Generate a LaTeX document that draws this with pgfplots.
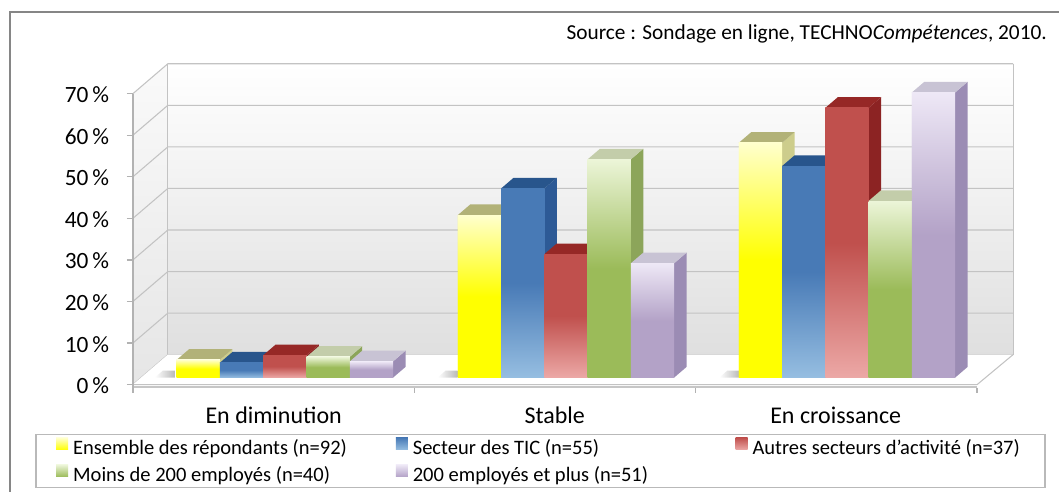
\documentclass[border=0pt]{standalone}
\usepackage{pgfplots}
\pgfplotsset{compat=1.18}
\usepackage{pgfplotstable}
\usepackage{fontspec}
\setmainfont{Carlito}

\definecolor{Yt}{RGB}{255,255,205}\definecolor{Yb}{RGB}{255,255,0}
\definecolor{Ytop}{RGB}{178,178,120}\definecolor{Yside}{RGB}{205,205,140}
\definecolor{Bt}{RGB}{72,122,182}\definecolor{Bb}{RGB}{150,190,225}
\definecolor{Btop}{RGB}{40,85,140}\definecolor{Bside}{RGB}{45,90,150}
\definecolor{Rt}{RGB}{192,80,77}\definecolor{Rb}{RGB}{236,168,166}
\definecolor{Rtop}{RGB}{150,40,38}\definecolor{Rside}{RGB}{140,35,35}
\definecolor{Gt}{RGB}{236,245,216}\definecolor{Gb}{RGB}{155,187,89}
\definecolor{Gtop}{RGB}{195,205,170}\definecolor{Gside}{RGB}{140,165,90}
\definecolor{Pt}{RGB}{238,232,246}\definecolor{Pb}{RGB}{179,162,199}
\definecolor{Ptop}{RGB}{200,195,212}\definecolor{Pside}{RGB}{155,140,180}
\definecolor{frame}{RGB}{134,134,134}
\definecolor{grid}{RGB}{195,195,195}

\pgfplotstableread{
x ens tic aut moins plus
0 4.3 3.6 5.4 5.0 3.9
1 39.1 45.5 29.7 52.5 27.5
2 56.5 50.9 64.9 42.5 68.6
}\datatable

% 3D bar drawn at the top centre of its front face: side, top, then front face
\newcommand\declbox[6]{%
 \pgfdeclareplotmark{#1}{%
  \pgfmathsetmacro\hh{\rawy*3.12}%
  \pgfmathsetmacro\hb{8.03-\hh}%
  \pgfmathsetmacro\hc{-\hh}%
  \path[fill=#3, draw=none] (16.24pt,0pt) -- (25.61pt,8.03pt) -- (25.61pt,\hb pt) -- (16.24pt,\hc pt) -- cycle;
  \path[fill=#2, draw=none] (-16.24pt,0pt) -- (16.24pt,0pt) -- (25.61pt,8.03pt) -- (-6.87pt,8.03pt) -- cycle;
  \path[draw=none, top color=#4, bottom color=#5, middle color=#6] (-16.24pt,\hc pt) rectangle (16.24pt,0pt);
 }}
\declbox{boxY}{Ytop}{Yside}{Yt}{Yb}{Yb}
\declbox{boxB}{Btop}{Bside}{Bt}{Bb}{Bt}
\declbox{boxR}{Rtop}{Rside}{Rt}{Rb}{Rt}
\declbox{boxG}{Gtop}{Gside}{Gt}{Gb}{Gb}
\declbox{boxP}{Ptop}{Pside}{Pt}{Pb}{Pb}

\begin{document}
\begin{tikzpicture}
\begin{scope}[x=0.75pt,y=0.75pt]
\fill[white] (0,0) rectangle (1060,492);
% frame
\draw[frame, line width=1.5pt] (10,0) -- (10,480) -- (1060,480);
% source
\node[anchor=base east, inner sep=0pt, font=\fontsize{16}{19}\selectfont] at (1048,452)
  {Source : Sondage en ligne, TECHNO\textit{Compétences}, 2010.};
% left wall
\shade[top color=gray!4, bottom color=gray!20] (133,107) -- (133,397.7) -- (168,428.2) -- (168,137) -- cycle;
% back wall
\shade[top color=white, bottom color=gray!25] (168,137) rectangle (1014,428.2);
\foreach \k in {0,...,7}{
  \draw[grid, line width=0.8pt] (133,107+41.6*\k) -- (168,137+41.6*\k) -- (1014,137+41.6*\k);
}
\draw[grid, line width=0.8pt] (168,137) -- (168,428.2) (1014,137) -- (1014,428.2);
% floor
\fill[white] (133,107) -- (978,107) -- (1014,137) -- (168,137) -- cycle;
\draw[grid, line width=0.8pt] (133,107) -- (978,107) -- (1014,137);
\draw[gray!45, line width=1.2pt] (133,104.5) -- (978,104.5);
% floor shadows left of each group
\foreach \sx in {155,438,720}{
  \shade[left color=white, right color=gray!55] (\sx,114) -- (\sx+20,114) -- (\sx+20,121) -- (\sx+8,121) -- cycle;
}
% front axis
\draw[gray!60, line width=1pt] (133,104) -- (133,398.2);
\foreach \k in {0,...,7}{\draw[gray!60, line width=1pt] (127,107+41.6*\k) -- (133,107+41.6*\k);}
\foreach \xx in {133,414.7,696.3,978}{\draw[gray!60, line width=1pt] (\xx,104) -- (\xx,99);}
% legend box
\draw[gray!55, line width=1pt] (36,4) rectangle (1046,57);
\end{scope}

\begin{axis}[
  at={(108.375pt,85.5pt)}, anchor=south west,
  scale only axis, width=632.9pt, height=218.4pt,
  xmin=-0.5, xmax=2.5, ymin=0, ymax=70,
  clip=false,
  axis x line*=bottom, axis y line*=left,
  axis line style={draw=none},
  major tick length=0pt,
  xtick={0,1,2},
  xticklabels={En diminution, Stable, En croissance},
  xticklabel style={anchor=base, inner sep=0pt, xshift=-8.4pt, yshift=-34.5pt,
    font=\fontsize{18}{21}\selectfont},
  ytick={0,10,...,70},
  yticklabels={0\,\%,10\,\%,20\,\%,30\,\%,40\,\%,50\,\%,60\,\%,70\,\%},
  yticklabel style={anchor=base east, inner sep=0pt, xshift=-26.4pt, yshift=-12pt,
    font=\fontsize{17.5}{21}\selectfont},
  legend columns=3,
  legend style={at={(-0.1049,-0.2026)}, anchor=north west, draw=none, fill=none,
    inner sep=0pt, /tikz/column sep=0pt, /tikz/row sep=0pt,
    font=\fontsize{15.4}{18}\selectfont,
    nodes={inner sep=0pt, text height=13.5pt, text depth=6.75pt, text width=242.25pt, align=flush left}},
]
\addplot[ybar, bar width=0.15393, bar shift=-0.30786, draw=none,
  top color=Yt, bottom color=Yb, middle color=Yb,
  legend image code/.code={\shade[top color=Yt, bottom color=Yb] (0pt,0.4pt) rectangle (9pt,9.4pt); \path (0pt,0pt) (12.75pt,0pt);}]
  table[x=x, y=ens] {\datatable};
\addlegendentry{Ensemble des répondants (n=92)}
\addplot[ybar, bar width=0.15393, bar shift=-0.15393, draw=none,
  top color=Bt, bottom color=Bb, middle color=Bt,
  legend image code/.code={\shade[top color=Bt, bottom color=Bb] (0pt,0.4pt) rectangle (9pt,9.4pt); \path (0pt,0pt) (12.75pt,0pt);}]
  table[x=x, y=tic] {\datatable};
\addlegendentry{Secteur des TIC (n=55)}
\addplot[ybar, bar width=0.15393, bar shift=0, draw=none,
  top color=Rt, bottom color=Rb, middle color=Rt,
  legend image code/.code={\shade[top color=Rt, bottom color=Rb] (0pt,0.4pt) rectangle (9pt,9.4pt); \path (0pt,0pt) (12.75pt,0pt);}]
  table[x=x, y=aut] {\datatable};
\addlegendentry[text width=225pt]{Autres secteurs d'activité (n=37)}
\addplot[ybar, bar width=0.15393, bar shift=0.15393, draw=none,
  top color=Gt, bottom color=Gb, middle color=Gb,
  legend image code/.code={\shade[top color=Gt, bottom color=Gb] (0pt,0.4pt) rectangle (9pt,9.4pt); \path (0pt,0pt) (12.75pt,0pt);}]
  table[x=x, y=moins] {\datatable};
\addlegendentry{Moins de 200 employés (n=40)}
\addplot[ybar, bar width=0.15393, bar shift=0.30786, draw=none,
  top color=Pt, bottom color=Pb, middle color=Pb,
  legend image code/.code={\shade[top color=Pt, bottom color=Pb] (0pt,0.4pt) rectangle (9pt,9.4pt); \path (0pt,0pt) (12.75pt,0pt);}]
  table[x=x, y=plus] {\datatable};
\addlegendentry{200 employés et plus (n=51)}

% 3D faces, drawn series by series (left to right)
\addplot[only marks, mark=boxY, draw=none, forget plot, visualization depends on=rawy\as\rawy]
  table[x expr=\thisrow{x}-0.30786, y=ens] {\datatable};
\addplot[only marks, mark=boxB, draw=none, forget plot, visualization depends on=rawy\as\rawy]
  table[x expr=\thisrow{x}-0.15393, y=tic] {\datatable};
\addplot[only marks, mark=boxR, draw=none, forget plot, visualization depends on=rawy\as\rawy]
  table[x=x, y=aut] {\datatable};
\addplot[only marks, mark=boxG, draw=none, forget plot, visualization depends on=rawy\as\rawy]
  table[x expr=\thisrow{x}+0.15393, y=moins] {\datatable};
\addplot[only marks, mark=boxP, draw=none, forget plot, visualization depends on=rawy\as\rawy]
  table[x expr=\thisrow{x}+0.30786, y=plus] {\datatable};
\end{axis}
\end{tikzpicture}
\end{document}
